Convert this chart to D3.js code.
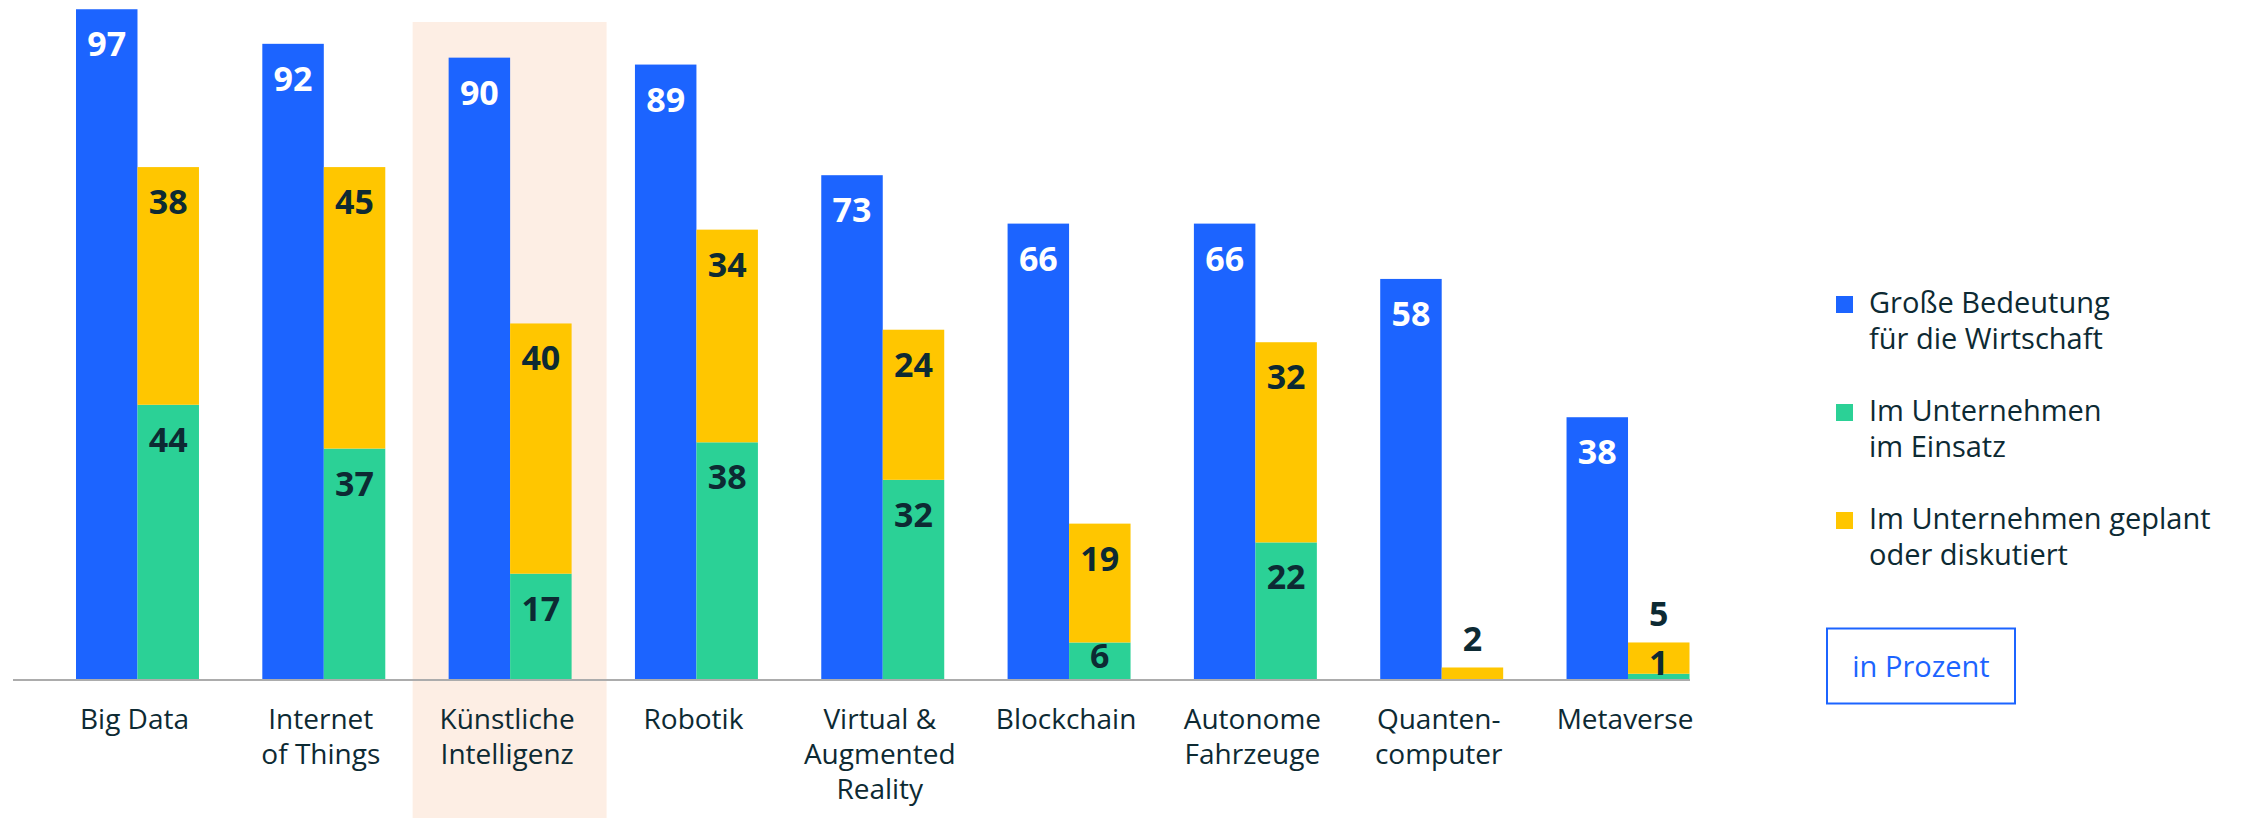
<!DOCTYPE html>
<html>
<head>
<meta charset="utf-8">
<script src="https://cdn.jsdelivr.net/npm/d3@7"></script>
<style>
  body { margin: 0; background: #fff; }
  svg text { font-family: "Open Sans", "Noto Sans", sans-serif; }
</style>
</head>
<body>
<div id="chart"></div>
<script>
const categories = ["Big Data", "Internet\nof Things", "Künstliche\nIntelligenz", "Robotik",
    "Virtual &\nAugmented\nReality", "Blockchain", "Autonome\nFahrzeuge", "Quanten-\ncomputer", "Metaverse"];
const bedeutung = [97, 92, 90, 89, 73, 66, 66, 58, 38];
const imEinsatz = [44, 37, 17, 38, 32, 6, 22, 0, 1];
const geplant = [38, 45, 40, 34, 24, 19, 32, 2, 5];
const legendNames = ["Große Bedeutung\nfür die Wirtschaft", "Im Unternehmen\nim Einsatz", "Im Unternehmen geplant\noder diskutiert"];
const highlighted = "Künstliche\nIntelligenz";
const unitLabel = "in Prozent";

const colors = {blue: "#1c64ff", green: "#2bd196", yellow: "#ffc600"};
const darkText = "#0d2a33";

let width = 2244, height = 818, baseY = 680;

let svg = d3.select("#chart")
            .append("svg")
                .attr("width", width)
                .attr("height", height);

let x0 = d3.scaleBand()
            .domain(categories)
            .range([76, 1689.5])
            .paddingInner(0.34)
            .paddingOuter(0);

let x1 = d3.scaleBand()
            .domain(["blue", "stack"])
            .range([0, x0.bandwidth()]);

// the blue bars and the stacked bars do not share one scale in the original
let yBlue = d3.scaleLinear().domain([0, 100]).range([baseY, baseY - 691.5]);
let yStack = d3.scaleLinear().domain([0, 100]).range([baseY, baseY - 625.5]);

let data = categories.map((c, i) => ({"cat": c, "blue": bedeutung[i], "green": imEinsatz[i], "yellow": geplant[i]}));

// highlight behind KI
svg.append("rect")
    .attr("x", x0(highlighted) - 36)
    .attr("y", 22)
    .attr("width", x0.bandwidth() + 71)
    .attr("height", height - 22)
    .attr("fill", "#fdeee4");

let groups = svg.selectAll("g.grp")
    .data(data)
    .join("g")
        .attr("class", "grp")
        .attr("transform", d => "translate(" + x0(d.cat) + ",0)");

groups.append("rect")
    .attr("x", x1("blue"))
    .attr("y", d => yBlue(d.blue))
    .attr("width", x1.bandwidth())
    .attr("height", d => baseY - yBlue(d.blue))
    .attr("fill", colors.blue);

groups.append("rect")
    .attr("x", x1("stack"))
    .attr("y", d => yStack(d.green))
    .attr("width", x1.bandwidth())
    .attr("height", d => baseY - yStack(d.green))
    .attr("fill", colors.green);

groups.append("rect")
    .attr("x", x1("stack"))
    .attr("y", d => yStack(d.green + d.yellow))
    .attr("width", x1.bandwidth())
    .attr("height", d => yStack(d.green) - yStack(d.green + d.yellow))
    .attr("fill", colors.yellow);

function valLabel(sel, xpos, ypos, txt, fill) {
    sel.append("text")
        .attr("x", xpos)
        .attr("y", ypos)
        .attr("text-anchor", "middle")
        .attr("font-weight", 700)
        .style("font-size", "34px")
        .attr("fill", fill)
        .text(txt);
}

groups.each(function(d) {
    let g = d3.select(this);
    let bx = x1("blue") + x1.bandwidth() / 2;
    let sx = x1("stack") + x1.bandwidth() / 2;
    valLabel(g, bx, yBlue(d.blue) + 47, d.blue, "#fff");

    if (d.green > 0) {
        let top = yStack(d.green), h = baseY - top;
        let yy = h >= 55 ? top + 47 : Math.min(top + h / 2 + 7, baseY - 5);
        valLabel(g, sx, yy, d.green, darkText);
    }
    if (d.yellow > 0) {
        let top = yStack(d.green + d.yellow), h = yStack(d.green) - top;
        let yy = h >= 55 ? top + 47 : top - 16;
        valLabel(g, sx, yy, d.yellow, darkText);
    }
});

// baseline
svg.append("line")
    .attr("x1", 13)
    .attr("x2", 1690)
    .attr("y1", baseY)
    .attr("y2", baseY)
    .attr("stroke", "#acacac")
    .attr("stroke-width", 2);

// category labels
svg.selectAll("text.cat")
    .data(categories)
    .join("text")
        .attr("class", "cat")
        .attr("text-anchor", "middle")
        .style("font-size", "28px")
        .attr("fill", darkText)
        .attr("transform", d => "translate(" + (x0(d) + x0.bandwidth() / 2 - 3) + ",729)")
        .each(function(d) {
            d3.select(this).selectAll("tspan")
                .data(d.split("\n"))
                .join("tspan")
                    .attr("x", 0)
                    .attr("y", (t, i) => i * 34.8)
                    .text(t => t);
        });

// legend
let legendColors = [colors.blue, colors.green, colors.yellow];
let legend = svg.selectAll("g.leg")
    .data(legendNames)
    .join("g")
        .attr("class", "leg")
        .attr("transform", (d, i) => "translate(1836," + (313 + i * 108) + ")");

legend.append("rect")
    .attr("x", 0)
    .attr("y", -17)
    .attr("width", 17)
    .attr("height", 17)
    .attr("fill", (d, i) => legendColors[i]);

legend.append("text")
    .style("font-size", "29px")
    .attr("fill", darkText)
    .each(function(d) {
        d3.select(this).selectAll("tspan")
            .data(d.split("\n"))
            .join("tspan")
                .attr("x", 33)
                .attr("y", (t, i) => i * 35.7)
                .text(t => t);
    });

svg.append("rect")
    .attr("x", 1827)
    .attr("y", 628.5)
    .attr("width", 188)
    .attr("height", 75)
    .attr("fill", "none")
    .attr("stroke", colors.blue)
    .attr("stroke-width", 2);

svg.append("text")
    .attr("x", 1921)
    .attr("y", 677)
    .attr("text-anchor", "middle")
    .style("font-size", "29px")
    .attr("fill", colors.blue)
    .text(unitLabel);
</script>
</body>
</html>
